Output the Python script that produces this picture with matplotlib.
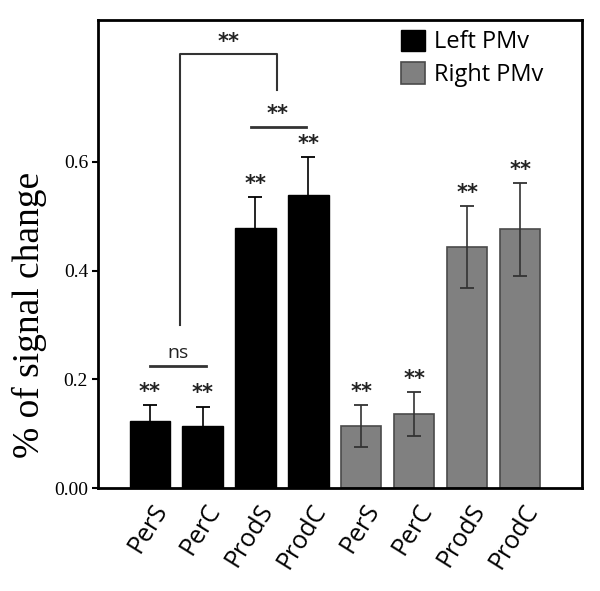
import matplotlib
matplotlib.use("Agg")
import matplotlib.pyplot as plt
import matplotlib.transforms as mtransforms
import numpy as np

categories = ["PerS", "PerC", "ProdS", "ProdC"]
left_vals = [0.123, 0.115, 0.478, 0.539]
left_err = [0.030, 0.035, 0.058, 0.070]
right_vals = [0.114, 0.136, 0.444, 0.476]
right_err = [0.039, 0.040, 0.075, 0.085]
series_labels = ["Left PMv", "Right PMv"]
ytick_vals = [0.0, 0.2, 0.4, 0.6]
ytick_labels = ["0.00", "0.2", "0.4", "0.6"]

fig = plt.figure(figsize=(6, 5.91), dpi=100)
ax = fig.add_axes([0.163, 0.174, 0.807, 0.792])

xl = np.arange(4)
xr = np.arange(4, 8)
w = 0.76
ax.bar(xl, left_vals, width=w, color="black", edgecolor="black", label=series_labels[0], zorder=2)
ax.errorbar(xl, left_vals, yerr=left_err, fmt="none", ecolor="black", elinewidth=1.2, capsize=5, capthick=1.3, zorder=3)
ax.bar(xr, right_vals, width=w, color="#808080", edgecolor="#4a4a4a", linewidth=1.2, label=series_labels[1], zorder=2)
ax.errorbar(xr, right_vals, yerr=right_err, fmt="none", ecolor="#333333", elinewidth=1.2, capsize=5, capthick=1.3, zorder=3)

ax.set_xlim(-0.98, 8.17)
ax.set_ylim(0, 0.861)

ax.set_xticks(np.arange(8))
ax.set_xticklabels(categories + categories, rotation=58, ha="right", rotation_mode="anchor",
                   fontsize=18, family="Open Sans")
ax.tick_params(axis="x", length=0, pad=8)
offset = mtransforms.ScaledTranslation(2 / 100, 0, fig.dpi_scale_trans)
for lab in ax.get_xticklabels():
    lab.set_transform(lab.get_transform() + offset)
ax.set_yticks(ytick_vals)
ax.set_yticklabels(ytick_labels, fontsize=14, family="Liberation Serif")
ax.tick_params(axis="y", length=4, width=1.5, direction="out", pad=3)
for s in ax.spines.values():
    s.set_linewidth(2)

ax.set_ylabel("% of signal change", fontsize=27, family="Liberation Serif")
ax.yaxis.set_label_coords(-0.105, 0.37)

# stars above bars
all_x = list(xl) + list(xr)
all_top = [v + e for v, e in zip(left_vals + right_vals, left_err + right_err)]
star_kw = dict(ha="center", va="bottom", fontsize=15, family="DejaVu Sans", color="#222222", fontweight="bold")
for x, t in zip(all_x, all_top):
    ax.text(x, t + 0.006, "**", **star_kw)

# ns bracket
ax.plot([0.0, 1.06], [0.225, 0.225], color="#333333", lw=2)
ax.text(0.53, 0.232, "ns", ha="center", va="bottom", fontsize=14, family="Open Sans", color="#222222")

# ProdS vs ProdC
ax.plot([1.91, 2.95], [0.665, 0.665], color="#333333", lw=2)
ax.text(2.42, 0.670, "**", **star_kw)

# big bracket
ax.plot([0.57, 0.57, 2.4, 2.4], [0.30, 0.798, 0.798, 0.732], color="#333333", lw=1.5)
ax.text(1.5, 0.802, "**", **star_kw)

leg = ax.legend(loc="upper left", frameon=False, prop={"family": "Open Sans", "size": 17},
                handlelength=1.0, handleheight=1.0, handletextpad=0.4, labelspacing=0.35,
                borderaxespad=0.0, borderpad=0.4, bbox_to_anchor=(0.607, 1.0))

fig.savefig("out.png", dpi=100)
